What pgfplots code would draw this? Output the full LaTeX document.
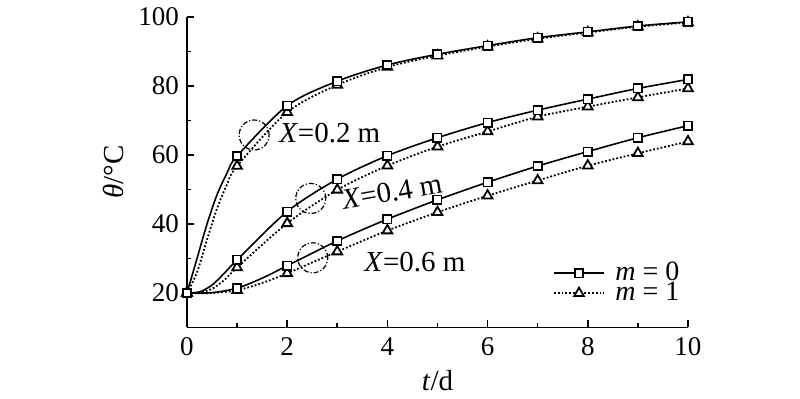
\documentclass[border=0pt]{standalone}
\usepackage{fontspec}
\setmainfont{Liberation Serif}
\usepackage{pgfplots}
\pgfplotsset{compat=1.18}
\begin{document}
\begin{tikzpicture}
\useasboundingbox (-93.5pt,-35.75pt) rectangle (306.5pt,163.75pt);
\begin{axis}[
  scale only axis, width=250.5pt, height=155.25pt,
  at={(0,0)}, anchor=south west,
  xmin=0, xmax=10, ymin=10, ymax=100,
  axis x line=bottom, axis y line=left,
  axis line style={-, line width=0.9pt, black},
  xtick={0,2,...,10}, minor xtick={1,3,...,9},
  ytick={20,40,...,100}, minor ytick={30,50,70,90},
  tick align=inside, major tick length=3.5pt, minor tick length=2.2pt,
  tick style={line width=0.8pt, black},
  /pgf/number format/assume math mode=true,
  ticklabel style={font=\fontsize{13.5}{15}\selectfont},
  xticklabel style={yshift=-1.5pt},
  yticklabel style={xshift=-0.5pt},
  xlabel={\textit{t}/d}, ylabel={\textit{θ}/°C},
  label style={font=\fontsize{14.5}{16}\selectfont},
  xlabel style={at={(axis description cs:0.5,-0.172)}, anchor=center},
  ylabel style={at={(axis description cs:-0.146,0.5)}, anchor=center},
  clip=false,
  legend cell align=left,
  legend style={at={(0.73,0.205)}, anchor=north west, draw=none, fill=none,
    inner sep=0pt, font=\fontsize{14}{15}\selectfont,
    nodes={inner sep=0.25pt, text height=8pt, text depth=0.5pt},
    row sep=1pt,
    /tikz/every odd column/.append style={column sep=5pt}},
  legend image code/.code={\draw[mark repeat=2,mark phase=2] plot coordinates {(0pt,0pt) (12.5pt,0pt) (25pt,0pt)};},
  m0/.style={black, line width=0.8pt},
  m1/.style={black, line width=0.9pt, densely dotted},
  sq/.style={only marks, mark=square*, mark size=2.1pt, mark options={solid, fill=white, draw=black, line width=0.8pt}},
  tri/.style={only marks, mark=triangle*, mark size=2.8pt, mark options={solid, fill=white, draw=black, line width=0.9pt}},
]
\addlegendimage{m0, mark=square*, mark size=2.1pt, mark options={solid, fill=white, line width=0.8pt}}
\addlegendentry{\textit{m} = 0}
\addlegendimage{m1, mark=triangle*, mark size=2.8pt, mark options={solid, fill=white, line width=0.9pt}}
\addlegendentry{\textit{m} = 1}

% X = 0.2 m
\addplot[m1, smooth, forget plot] coordinates {(0,20)(0.2,26)(0.4,35.5)(0.6,44.5)(0.8,51.5)(1,56.8)(2,72.4)(3,80.3)(4,85.5)(5,88.8)(6,91.4)(7,93.7)(8,95.5)(9,97.2)(10,98.4)};
\addplot[m0, smooth, forget plot] coordinates {(0,20)(0.2,30)(0.4,40)(0.6,48.5)(0.8,54.8)(1,59.7)(2,74.3)(3,81.4)(4,86.1)(5,89.2)(6,91.7)(7,94.0)(8,95.7)(9,97.4)(10,98.6)};
% X = 0.4 m
\addplot[m1, smooth, forget plot] coordinates {(0,20)(0.25,20.1)(0.5,21.2)(0.75,23.8)(1,27.4)(2,40.2)(3,49.9)(4,56.9)(5,62.4)(6,66.8)(7,71.1)(8,74.0)(9,76.7)(10,79.3)};
\addplot[m0, smooth, forget plot] coordinates {(0,20)(0.25,20.3)(0.5,22.3)(0.75,25.8)(1,29.6)(2,43.6)(3,53.0)(4,59.8)(5,65.0)(6,69.4)(7,73.0)(8,76.2)(9,79.3)(10,81.9)};
% X = 0.6 m
\addplot[m1, smooth, forget plot] coordinates {(0,20)(0.5,20)(1,20.8)(1.5,22.9)(2,25.7)(3,32.0)(4,38.1)(5,43.4)(6,48.2)(7,52.6)(8,56.9)(9,60.5)(10,63.9)};
\addplot[m0, smooth, forget plot] coordinates {(0,20)(0.5,20.1)(1,21.4)(1.5,24.3)(2,27.9)(3,35.1)(4,41.4)(5,47.0)(6,52.1)(7,56.8)(8,61.0)(9,65.0)(10,68.5)};

% markers
\addplot[tri, forget plot] coordinates {(0,20)(1,56.8)(2,72.4)(3,80.3)(4,85.5)(5,88.8)(6,91.4)(7,93.7)(8,95.5)(9,97.2)(10,98.4)};
\addplot[tri, forget plot] coordinates {(0,20)(1,27.4)(2,40.2)(3,49.9)(4,56.9)(5,62.4)(6,66.8)(7,71.1)(8,74.0)(9,76.7)(10,79.3)};
\addplot[tri, forget plot] coordinates {(0,20)(1,20.8)(2,25.7)(3,32.0)(4,38.1)(5,43.4)(6,48.2)(7,52.6)(8,56.9)(9,60.5)(10,63.9)};
\addplot[sq, forget plot] coordinates {(0,20)(1,59.7)(2,74.3)(3,81.4)(4,86.1)(5,89.2)(6,91.7)(7,94.0)(8,95.7)(9,97.4)(10,98.6)};
\addplot[sq, forget plot] coordinates {(0,20)(1,29.6)(2,43.6)(3,53.0)(4,59.8)(5,65.0)(6,69.4)(7,73.0)(8,76.2)(9,79.3)(10,81.9)};
\addplot[sq, forget plot] coordinates {(0,20)(1,21.4)(2,27.9)(3,35.1)(4,41.4)(5,47.0)(6,52.1)(7,56.8)(8,61.0)(9,65.0)(10,68.5)};

% annotations
\draw[line width=0.6pt, dash pattern=on 2.5pt off 1pt on 0.6pt off 1pt] (axis cs:1.34,65.8) circle[radius=7.5pt];
\draw[line width=0.6pt, dash pattern=on 2.5pt off 1pt on 0.6pt off 1pt] (axis cs:2.47,47.4) circle[radius=7.5pt];
\draw[line width=0.6pt, dash pattern=on 2.5pt off 1pt on 0.6pt off 1pt] (axis cs:2.51,30.2) circle[radius=7.5pt];
\node[font=\fontsize{14.5}{16}\selectfont] at (axis cs:2.85,66.4) {\textit{X}=0.2 m};
\node[font=\fontsize{14.5}{16}\selectfont, rotate=10] at (axis cs:4.09,49.3) {\textit{X}=0.4 m};
\node[font=\fontsize{14.5}{16}\selectfont] at (axis cs:4.55,29.0) {\textit{X}=0.6 m};
\end{axis}
\end{tikzpicture}
\end{document}
